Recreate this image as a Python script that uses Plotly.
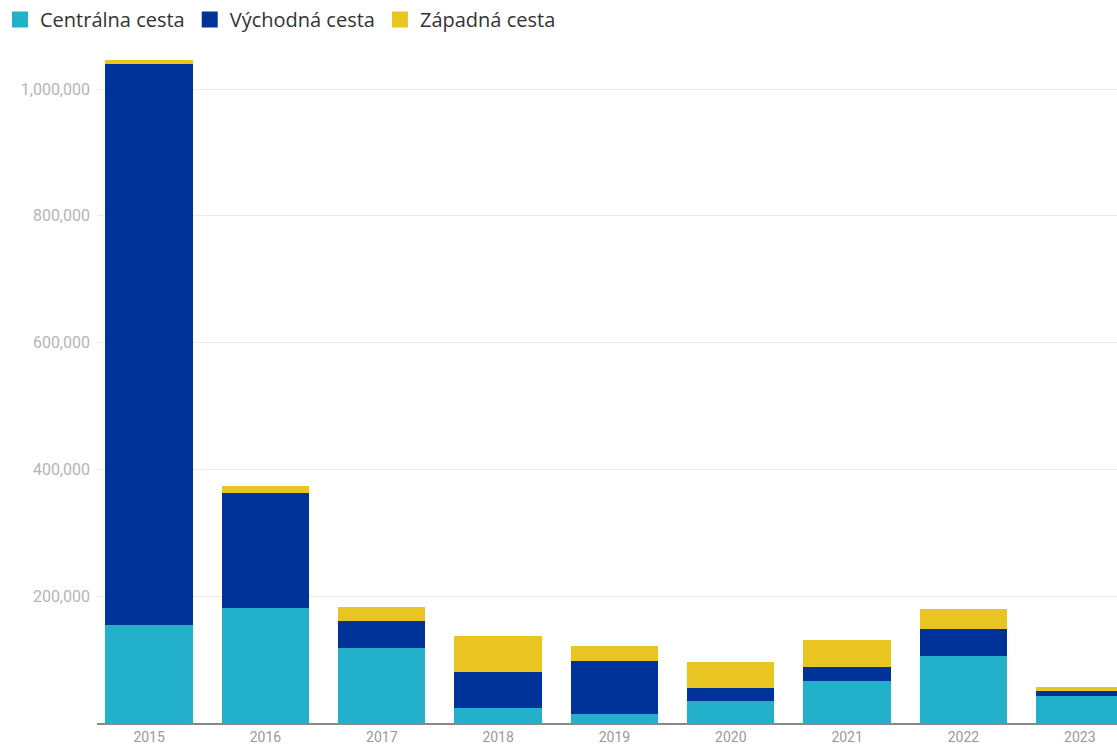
import plotly.graph_objects as go

years = ["2015", "2016", "2017", "2018", "2019", "2020", "2021", "2022", "2023"]
central = [155000, 181000, 119000, 23000, 14000, 35000, 67000, 105000, 42000]
eastern = [885000, 182000, 42000, 57000, 84000, 20000, 21000, 44000, 8000]
western = [6000, 11000, 22000, 58000, 24000, 41000, 43000, 31000, 7000]

names = ["Centrálna cesta", "Východná cesta", "Západná cesta"]
colors = ["#22b0ca", "#003399", "#e8c520"]
yticks = [0, 200000, 400000, 600000, 800000, 1000000]
ytick_text = ["", "200,000", "400,000", "600,000", "800,000", "1,000,000"]

fig = go.Figure()
for name, vals, col in zip(names, [central, eastern, western], colors):
    fig.add_trace(go.Bar(x=list(range(len(years))), y=vals, name=name,
                         showlegend=False,
                         marker=dict(color=col, line=dict(width=0))))
# legend entries with larger square swatches
for name, col in zip(names, colors):
    fig.add_trace(go.Scatter(x=[None], y=[None], mode="markers", name=name,
                             marker=dict(symbol="square", size=20, color=col),
                             showlegend=True, hoverinfo="skip"))

fig.update_layout(
    barmode="stack",
    bargap=0.25,
    width=1117, height=745,
    margin=dict(l=97, r=0, t=51, b=22, autoexpand=False),
    paper_bgcolor="white", plot_bgcolor="white",
    font=dict(family="Roboto", color="#999999"),
    showlegend=True,
    legend=dict(orientation="h", xref="container", yref="container",
                x=0, y=1, xanchor="left", yanchor="top",
                itemsizing="trace",
                font=dict(family="Open Sans", size=20, color="#333333"),
                traceorder="normal", itemclick=False),
    xaxis=dict(range=[-0.448, 8.32], tickmode="array",
               tickvals=list(range(len(years))), ticktext=years,
               showgrid=False, showline=True, linecolor="#888888", linewidth=2,
               ticks="", ticklabelstandoff=0, automargin=False,
               tickfont=dict(size=14, color="#999999")),
    yaxis=dict(range=[0, 1060000], tickmode="array", tickvals=yticks,
               ticktext=ytick_text, showgrid=True, gridcolor="#ebebeb",
               gridwidth=1, zeroline=False, showline=False, ticks="",
               ticklabelstandoff=6, automargin=False,
               tickfont=dict(size=16, color="#b5b5b5")),
)

fig.write_html("out.html", config={"displayModeBar": False},
               post_script="document.body.style.margin='0';document.body.style.overflow='hidden';")
